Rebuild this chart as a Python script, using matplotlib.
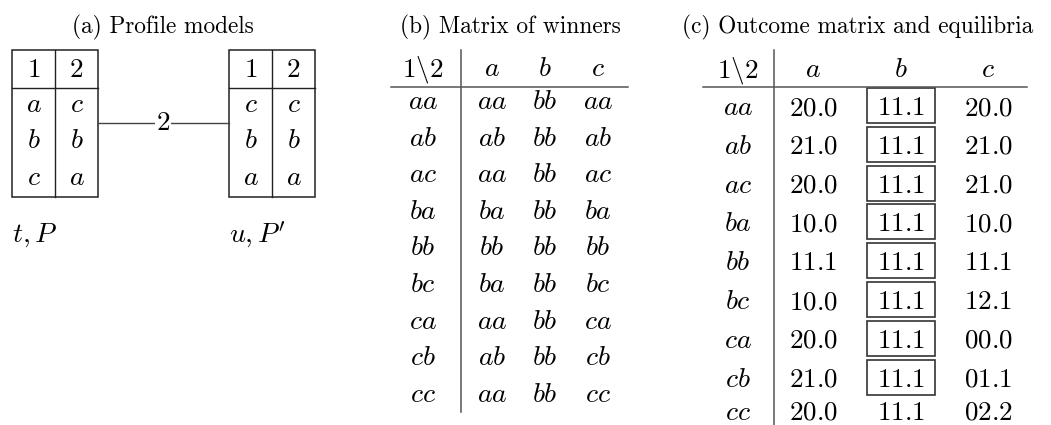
import matplotlib.pyplot as plt
from matplotlib.patches import Rectangle

plt.rcParams['mathtext.fontset'] = 'cm'

# ---- data ----
voters = ['1', '2']
profile_t = [['a', 'c'], ['b', 'b'], ['c', 'a']]
profile_u = [['c', 'c'], ['b', 'b'], ['a', 'a']]
edge_label = '2'
model_labels = ["t, P", "u, P'"]

strategies = ['aa', 'ab', 'ac', 'ba', 'bb', 'bc', 'ca', 'cb', 'cc']
columns = ['a', 'b', 'c']
winners = [
    ['aa', 'bb', 'aa'],
    ['ab', 'bb', 'ab'],
    ['aa', 'bb', 'ac'],
    ['ba', 'bb', 'ba'],
    ['bb', 'bb', 'bb'],
    ['ba', 'bb', 'bc'],
    ['aa', 'bb', 'ca'],
    ['ab', 'bb', 'cb'],
    ['aa', 'bb', 'cc'],
]
outcomes = [
    ['20.0', '11.1', '20.0'],
    ['21.0', '11.1', '21.0'],
    ['20.0', '11.1', '21.0'],
    ['10.0', '11.1', '10.0'],
    ['11.1', '11.1', '11.1'],
    ['10.0', '11.1', '12.1'],
    ['20.0', '11.1', '00.0'],
    ['21.0', '11.1', '01.1'],
    ['20.0', '11.1', '02.2'],
]
# equilibria: (row, col) cells that get a box
equilibria = [(r, 1) for r in range(8)]

titles = ['(a) Profile models', '(b) Matrix of winners', '(c) Outcome matrix and equilibria']

W, H = 1051, 425
fig = plt.figure(figsize=(W / 100, H / 100), dpi=100)
ax = fig.add_axes([0, 0, 1, 1])
ax.set_xlim(0, W)
ax.set_ylim(H, 0)
ax.axis('off')

TS = 16.8   # title size
FS = 20     # italic table text
NS = 19.5   # numbers
title_y = 33

def mtext(x, y, s, size=FS, italic=True):
    body = s if italic else r'\mathrm{' + s + '}'
    ax.text(x, y, '$' + body + '$', ha='center', va='baseline', fontsize=size)

for xc, t in zip([163, 510, 858], titles):
    ax.text(xc, title_y, t, ha='center', va='baseline', fontsize=TS, family='cmr10')

# ---- (a) profile models ----
def profile_box(x0, prof, label):
    w, top, hdr, bot = 86, 50, 88, 197
    lc = '#222222'
    ax.add_patch(Rectangle((x0, top), w, bot - top, fill=False, ec=lc, lw=1.1))
    ax.plot([x0, x0 + w], [hdr, hdr], color=lc, lw=1.0)
    ax.plot([x0 + 43, x0 + 43], [top, bot], color=lc, lw=1.0)
    cx = [x0 + 21.5, x0 + 64.5]
    for j, v in enumerate(voters):
        mtext(cx[j], 77, v, size=NS, italic=False)
    for i, row in enumerate(prof):
        for j, v in enumerate(row):
            mtext(cx[j], 112 + i * 36.5, v)
    ax.text(x0, 242, '$' + label + '$', ha='left', va='baseline', fontsize=FS)

profile_box(12, profile_t, model_labels[0])
profile_box(229, profile_u, model_labels[1])
ax.plot([98, 229], [123, 123], color='#444444', lw=1.0)
ax.text(163, 123, '$' + edge_label + '$', ha='center', va='center', fontsize=NS,
        bbox=dict(boxstyle='square,pad=0.02', fc='white', ec='none'))

# ---- (b) matrix of winners ----
lc2 = '#555555'
ax.plot([461, 461], [50, 412], color=lc2, lw=1.1)
ax.plot([391, 628], [87, 87], color=lc2, lw=1.1)
bx = [492, 545, 598]
mtext(423, 76, r'1\backslash 2', size=NS, italic=False)
for j, c in enumerate(columns):
    mtext(bx[j], 76, c)
for i, s in enumerate(strategies):
    y = 109 + i * 36.6
    mtext(423, y, s)
    for j, v in enumerate(winners[i]):
        mtext(bx[j], y, v)

# ---- (c) outcome matrix and equilibria ----
ax.plot([774, 774], [50, 430], color=lc2, lw=1.1)
ax.plot([703, 1027], [87, 87], color=lc2, lw=1.1)
cxs = [813, 901, 988]
mtext(738, 77, r'1\backslash 2', size=NS, italic=False)
for j, c in enumerate(columns):
    mtext(cxs[j], 77, c)

boxed_rows = {r for r, _ in equilibria}
row_y = []
y = 115
for i in range(len(strategies)):
    if i > 0:
        y += 38.8 if i in boxed_rows else 33
    row_y.append(y)

for i, s in enumerate(strategies):
    mtext(738, row_y[i], s)
    for j, v in enumerate(outcomes[i]):
        mtext(cxs[j], row_y[i], v, size=NS, italic=False)
for r, c in equilibria:
    ax.add_patch(Rectangle((cxs[c] - 34, row_y[r] - 27), 68, 35, fill=False,
                           ec='#333333', lw=1.2))

fig.savefig('out.png', dpi=100)
